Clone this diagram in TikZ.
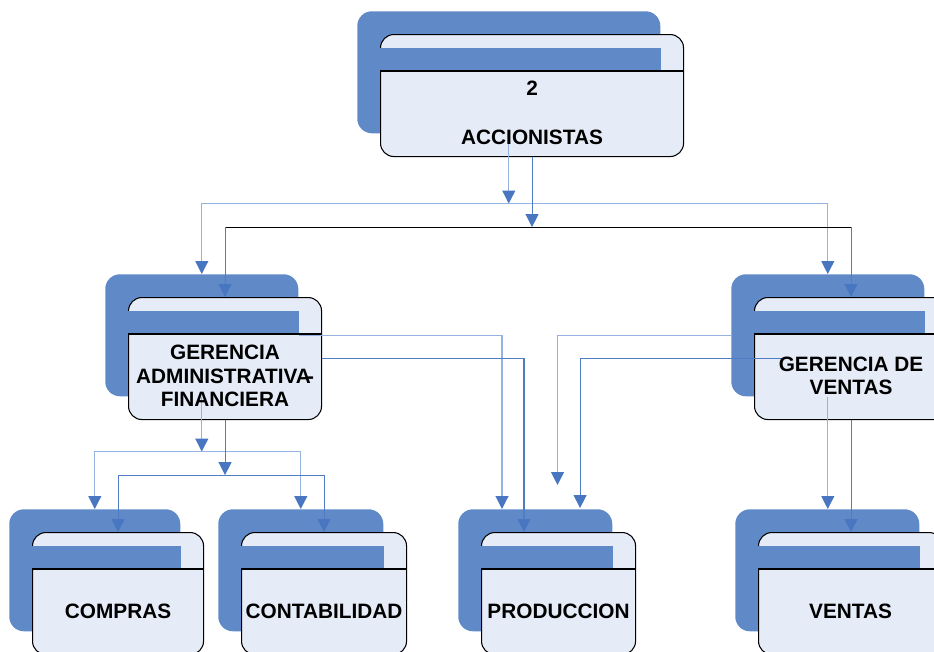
\documentclass[tikz,border=0pt]{standalone}
\usepackage{fontspec}
\setmainfont{Liberation Sans}
\usetikzlibrary{arrows.meta,calc}

\definecolor{cardblue}{RGB}{96,137,200}
\definecolor{cardface}{RGB}{230,236,247}
\definecolor{wireback}{RGB}{150,178,222}
\definecolor{wirefront}{RGB}{79,125,196}
\definecolor{tipblue}{RGB}{72,118,192}

\tikzset{
  backcard/.style={rectangle, rounded corners=11pt, fill=cardblue, anchor=north west,
    inner sep=0pt, minimum height=122*0.75pt},
  frontcard/.style={rectangle, rounded corners=10pt, fill=cardface, draw=black, line width=0.8pt,
    anchor=north west, inner sep=0pt, minimum height=122*0.75pt},
  cardtext/.style={align=center, font=\fontsize{15.6}{17.6}\selectfont\bfseries},
  flowtip/.style={-{Triangle[width=9.75pt,length=9.75pt,color=tipblue]}},
  wireb/.style={draw=wireback, line width=0.8pt},
  wiref/.style={draw=wirefront, line width=0.8pt}
}

\begin{document}
\begin{tikzpicture}[x=0.75pt, y=-0.75pt]

      \useasboundingbox (0,0) rectangle (934,651);
      \clip (0,0) rectangle (934,651);

      % Cards: blue shadow, front face, blue band and divider
      \foreach \nm/\x/\y/\w in {acc/357/11/303, gaf/105/274/193, gv/731/274/193,
          com/9/509/171, con/218/509/165, pro/458/509/154, ven/735/509/184} {
          \node[backcard, minimum width=\w*0.75pt] (\nm-b) at (\x,\y) {};
          \node[frontcard, minimum width=\w*0.75pt] (\nm-f) at (\x+23,\y+23) {};
          \fill[cardblue] ($(\nm-f.north west)+(-0.5,14)$) rectangle ($(\nm-b.east |- \nm-f.north)+(0,37)$);
          \draw[line width=0.8pt] ($(\nm-f.north west)+(0,37)$) -- ($(\nm-f.north east)+(0,37)$);
      }

      % Accionistas to the two gerencias
      \draw[wireb, flowtip] (acc-b.south) -- ++(0,70) coordinate (busA);
      \draw[wireb, flowtip] (busA) -| (gaf-b.north);
      \draw[wireb, flowtip] (busA) -| (gv-b.north);
      \draw[wiref, flowtip] (acc-f.south) -- ++(0,70) coordinate (busB);
      \draw[line width=0.8pt] (busB -| gaf-f.north) -- (busB -| gv-f.north);
      \draw[wiref, flowtip] (busB -| gaf-f.north) -- (gaf-f.north);
      \draw[wiref, flowtip] (busB -| gv-f.north) -- (gv-f.north);

      % Gerencia administrativa to compras and contabilidad
      \draw[wireb, flowtip] (gaf-b.south) -- ++(0,55) coordinate (busC);
      \draw[wireb, flowtip] (busC) -| (com-b.north);
      \draw[wireb, flowtip] (busC) -| (con-b.north);
      \draw[wiref, flowtip] (gaf-f.south) -- ++(0,55) coordinate (busD);
      \draw[wiref, flowtip] (busD) -| (com-f.north);
      \draw[wiref, flowtip] (busD) -| (con-f.north);

      % Both gerencias to produccion
      \draw[wireb, flowtip] (gaf-b.east) -| ($(pro-b.north west)+(44,0)$);
      \draw[wiref, flowtip] (gaf-f.east) -| ($(pro-f.north west)+(43,0)$);
      \draw[wireb, flowtip] (gv-b.west) -| ($(pro-b.north east)+(-55,-24)$);
      \draw[wiref, flowtip] ($(gv-f.west)+(35,0)$) -| ($(pro-f.north east)+(-56,-24)$);

      % Gerencia de ventas to ventas
      \draw[wireb, flowtip] (gv-b.south) -- (gv-b.south |- ven-b.north);
      \draw[wiref, flowtip] (gv-f.south) -- (gv-f.south |- ven-f.north);

      % Card texts
      \foreach \nm/\txt in {acc/{2\\[19pt]ACCIONISTAS}, gaf/{GERENCIA\\ADMINISTRATIVA\kern-3pt-\\FINANCIERA},
          gv/{GERENCIA DE\\VENTAS}, com/COMPRAS, con/CONTABILIDAD, pro/PRODUCCION, ven/VENTAS} {
          \node[cardtext] (\nm-t) at ($(\nm-f.north)+(0,79)$) {\txt};
      }

\end{tikzpicture}
\end{document}
